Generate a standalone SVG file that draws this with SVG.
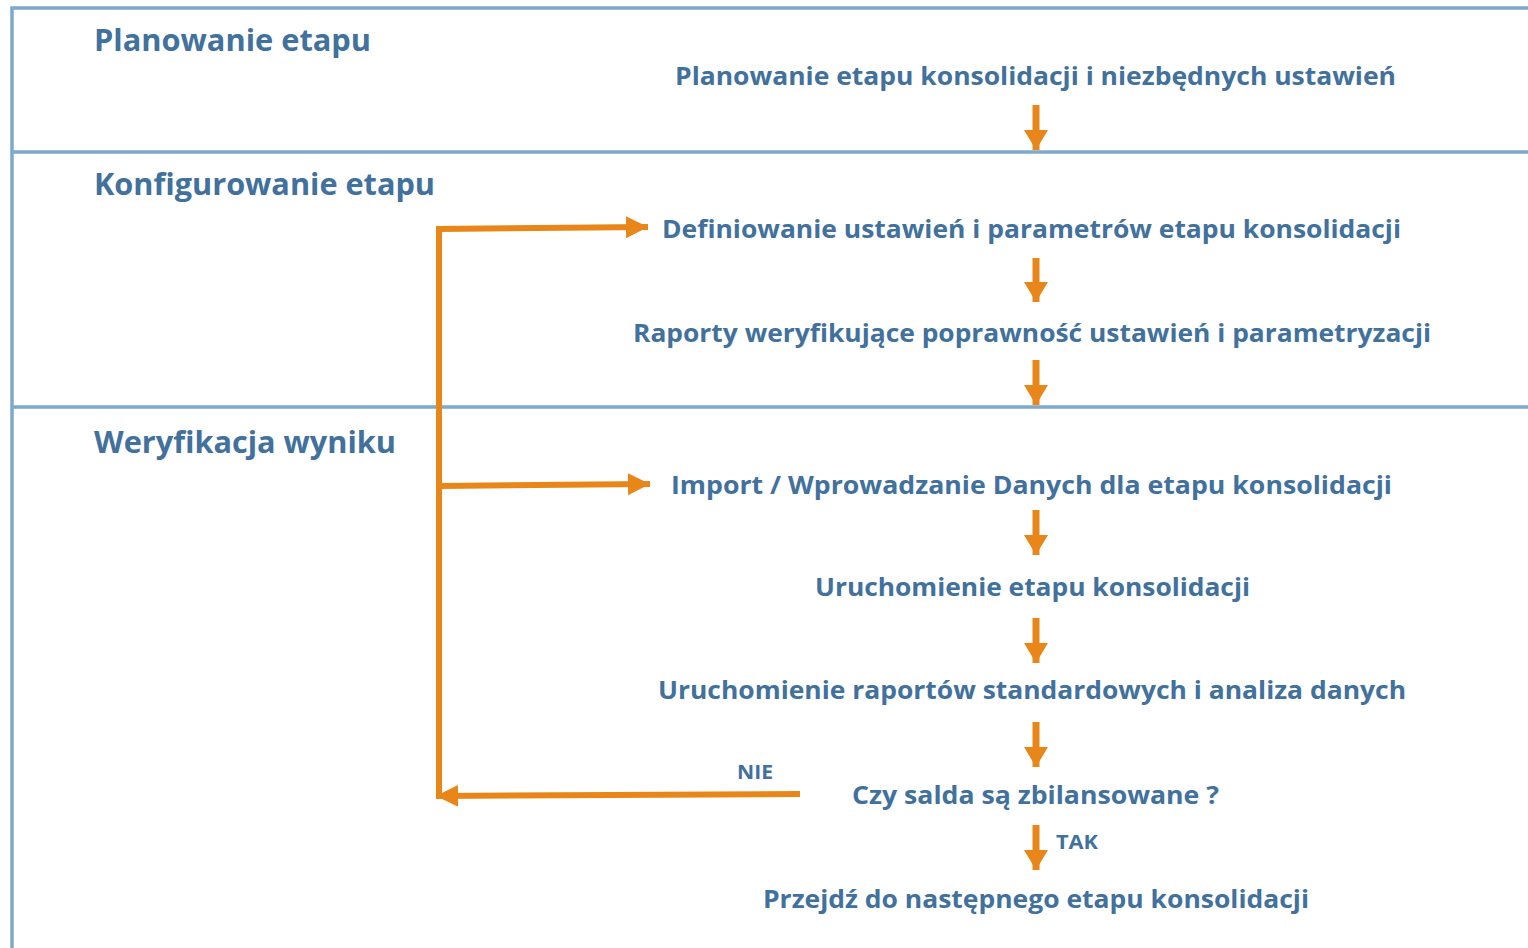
<svg xmlns="http://www.w3.org/2000/svg" width="1528" height="948" viewBox="0 0 1528 948">
<style>
.lane{stroke:#7DA9CD;stroke-width:3.5;fill:none}
.h{font-family:"Open Sans","Noto Sans",sans-serif;font-weight:700;fill:#41719C;font-size:30px}
.t{font-family:"Open Sans","Noto Sans",sans-serif;font-weight:700;fill:#41719C;font-size:25px;text-anchor:middle}
.s{font-family:"Open Sans","Noto Sans",sans-serif;font-weight:700;fill:#41719C;font-size:20px}
.c{stroke:#E8861A;stroke-width:6;fill:none}
.d{stroke:#E8861A;stroke-width:7;fill:none}
</style>
<defs>
<marker id="ah" markerUnits="userSpaceOnUse" markerWidth="24" markerHeight="24" refX="22" refY="11" orient="auto">
<path d="M0,0 L22,11 L0,22 z" fill="#E8861A"/>
</marker>
<marker id="dh" markerUnits="userSpaceOnUse" markerWidth="26" markerHeight="26" refX="20" refY="12" orient="auto">
<path d="M0,0 L20,12 L0,24 z" fill="#E8861A"/>
</marker>
</defs>
<rect width="1528" height="948" fill="#fff"/>
<g id="lanes">
<path class="lane" d="M1528,8 H12 V948"/>
<path class="lane" d="M12,152 H1528"/>
<path class="lane" d="M12,407 H1528"/>
</g>
<g id="lane-labels">
<text class="h" x="94" y="51" textLength="277" lengthAdjust="spacingAndGlyphs">Planowanie etapu</text>
<text class="h" x="94" y="195" textLength="341" lengthAdjust="spacingAndGlyphs">Konfigurowanie etapu</text>
<text class="h" x="94" y="453" textLength="302" lengthAdjust="spacingAndGlyphs">Weryfikacja wyniku</text>
</g>
<g id="n1"><text class="t" x="1035.5" y="85" textLength="721" lengthAdjust="spacingAndGlyphs">Planowanie etapu konsolidacji i niezbędnych ustawień</text></g>
<g id="n2"><text class="t" x="1031.5" y="238" textLength="739" lengthAdjust="spacingAndGlyphs">Definiowanie ustawień i parametrów etapu konsolidacji</text></g>
<g id="n3"><text class="t" x="1032" y="342" textLength="798" lengthAdjust="spacingAndGlyphs">Raporty weryfikujące poprawność ustawień i parametryzacji</text></g>
<g id="n4"><text class="t" x="1031.5" y="494" textLength="721" lengthAdjust="spacingAndGlyphs">Import / Wprowadzanie Danych dla etapu konsolidacji</text></g>
<g id="n5"><text class="t" x="1032.5" y="596" textLength="435" lengthAdjust="spacingAndGlyphs">Uruchomienie etapu konsolidacji</text></g>
<g id="n6"><text class="t" x="1032" y="699" textLength="748" lengthAdjust="spacingAndGlyphs">Uruchomienie raportów standardowych i analiza danych</text></g>
<g id="n7"><text class="t" x="1035.5" y="804" textLength="367" lengthAdjust="spacingAndGlyphs">Czy salda są zbilansowane ?</text></g>
<g id="n8"><text class="t" x="1036" y="908" textLength="546" lengthAdjust="spacingAndGlyphs">Przejdź do następnego etapu konsolidacji</text></g>
<g id="connectors">
<path class="d" d="M1036,105 V150" marker-end="url(#dh)"/>
<path class="d" d="M1036,258 V302" marker-end="url(#dh)"/>
<path class="d" d="M1036,360 V405" marker-end="url(#dh)"/>
<path class="d" d="M1036,510 V555" marker-end="url(#dh)"/>
<path class="d" d="M1036,618 V663" marker-end="url(#dh)"/>
<path class="d" d="M1036,722 V767" marker-end="url(#dh)"/>
<path class="d" d="M1036,825 V870" marker-end="url(#dh)"/>
<path class="c" d="M439,797 V229 L648,227" marker-end="url(#ah)"/>
<path class="c" d="M439,486 L650,484" marker-end="url(#ah)"/>
<path class="c" d="M800,794 L436,796" marker-end="url(#ah)"/>
<text class="s" x="737" y="779" textLength="36" lengthAdjust="spacingAndGlyphs">NIE</text>
<text class="s" x="1056" y="849" textLength="42" lengthAdjust="spacingAndGlyphs">TAK</text>
</g>
</svg>
